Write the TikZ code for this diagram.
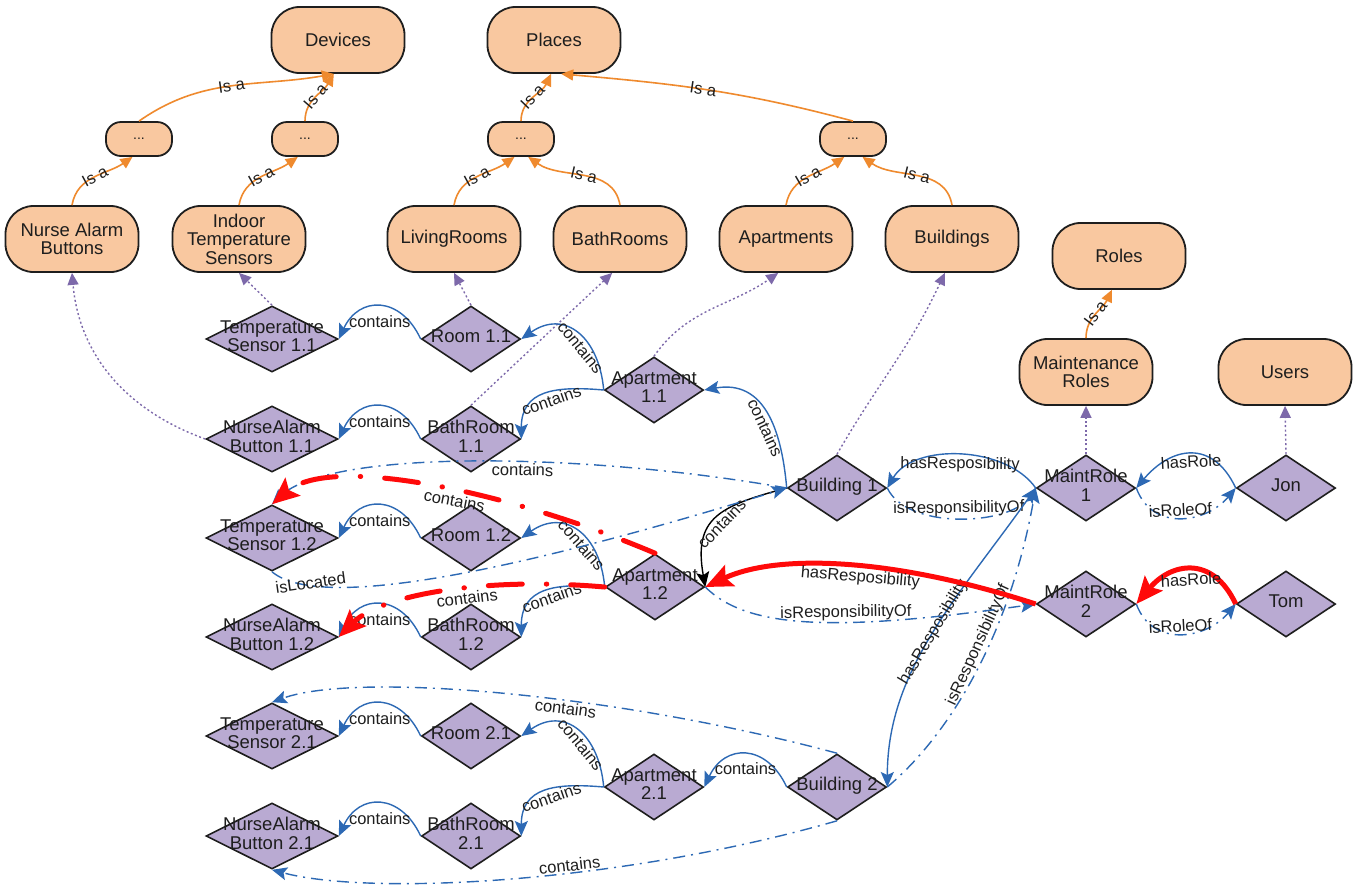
\documentclass[tikz,border=0pt]{standalone}
\usepackage{fontspec}
\setmainfont{Liberation Sans}
\usetikzlibrary{shapes.geometric,arrows.meta}

\definecolor{classfill}{HTML}{F9C8A0}
\definecolor{instfill}{HTML}{B9AAD2}
\definecolor{isaorange}{HTML}{EF8A2E}
\definecolor{typepurple}{HTML}{7D69AA}
\definecolor{relblue}{HTML}{2D69B4}
\definecolor{hlred}{HTML}{FF0A0A}
\definecolor{inkdark}{HTML}{1E1E1E}

\newcommand{\nodefont}{\fontsize{18.5}{18.5}\selectfont}
\newcommand{\edgefont}{\fontsize{16.5}{16.5}\selectfont}
% text of an individual: centred on the diamond, free to overflow its border
\newcommand{\dlabel}[1]{\makebox[0pt]{\begin{tabular}{@{}c@{}}#1\end{tabular}}}

\begin{document}
\begin{tikzpicture}[x=1pt,y=1pt,
  class/.style={rectangle, rounded corners=28pt, draw=inkdark, line width=1.8pt,
    fill=classfill, minimum width=133pt, minimum height=66pt, align=center,
    font=\nodefont, text=inkdark, inner sep=0pt},
  gapclass/.style={rectangle, rounded corners=15pt, draw=inkdark, line width=1.8pt,
    fill=classfill, minimum width=66pt, minimum height=34pt,
    font=\fontsize{14}{14}\selectfont, text=inkdark, inner sep=0pt},
  inst/.style={diamond, draw=inkdark, line width=1.6pt, fill=instfill,
    minimum width=99pt, minimum height=66pt, inner sep=0pt,
    font=\nodefont, text=inkdark},
  wideinst/.style={inst, minimum width=132pt},
  isa/.style={draw=isaorange, line width=1.6pt, -{Triangle[length=12pt,width=11pt]}},
  typeof/.style={draw=typepurple, line width=1.4pt, dash pattern=on 2pt off 2.5pt,
    -{Triangle[length=12pt,width=11pt]}},
  rel/.style={draw=relblue, line width=1.4pt, -{Stealth[length=15pt,width=13pt,inset=3pt]}},
  inv/.style={rel, dash pattern=on 12pt off 6pt on 2pt off 6pt},
  hl/.style={draw=hlred, line width=5pt, -{Stealth[length=27pt,width=23pt,inset=5pt]}},
  hldash/.style={hl, line cap=round, dash pattern=on 34pt off 24pt on 0.5pt off 24pt},
  lbl/.style={font=\edgefont, text=inkdark, inner sep=1pt, sloped},
  isalbl/.style={font=\edgefont, text=inkdark, inner sep=0pt, sloped},
  lblflat/.style={font=\edgefont, text=inkdark, inner sep=0pt}
]
\useasboundingbox (0,0) rectangle (1362,-884);
\fill[white] (0,0) rectangle (1362,-884);

% ---------- classes ----------
\node[class] (Devices) at (338,-40) {Devices};
\node[class] (Places)  at (554,-40) {Places};
\node[gapclass] (dA) at (139,-139) {...};
\node[gapclass] (dB) at (305,-139) {...};
\node[gapclass] (dC) at (521,-139) {...};
\node[gapclass] (dD) at (853,-139) {...};
\node[class] (NAB) at (72,-239)  {Nurse Alarm\\Buttons};
\node[class] (ITS) at (239,-239) {Indoor\\Temperature\\Sensors};
\node[class] (LR)  at (454,-239) {LivingRooms};
\node[class] (BRs) at (620,-239) {BathRooms};
\node[class] (APs) at (786,-239) {Apartments};
\node[class] (BUs) at (952,-239) {Buildings};
\node[class] (Roles)  at (1119,-256) {Roles};
\node[class] (MRoles) at (1086,-372) {Maintenance\\Roles};
\node[class] (Users)  at (1285,-372) {Users};

% ---------- individuals ----------
\node[wideinst] (TS11) at (272,-339) {\dlabel{Temperature\\Sensor 1.1}};
\node[inst] (R11)  at (471,-339) {\dlabel{Room 1.1}};
\node[inst] (A11)  at (654,-390) {\dlabel{Apartment\\1.1}};
\node[wideinst] (NA11) at (272,-439) {\dlabel{NurseAlarm\\Button 1.1}};
\node[inst] (BR11) at (471,-439) {\dlabel{BathRoom\\1.1}};
\node[inst] (B1)   at (837,-488) {\dlabel{Building 1}};
\node[inst] (MR1)  at (1086,-488) {\dlabel{MaintRole\\1}};
\node[inst] (Jon)  at (1286,-488) {\dlabel{Jon}};
\node[wideinst] (TS12) at (272,-538) {\dlabel{Temperature\\Sensor 1.2}};
\node[inst] (R12)  at (471,-538) {\dlabel{Room 1.2}};
\node[inst] (A12)  at (655,-587) {\dlabel{Apartment\\1.2}};
\node[wideinst] (NA12) at (272,-637) {\dlabel{NurseAlarm\\Button 1.2}};
\node[inst] (BR12) at (471,-637) {\dlabel{BathRoom\\1.2}};
\node[inst] (MR2)  at (1086,-604) {\dlabel{MaintRole\\2}};
\node[inst] (Tom)  at (1286,-604) {\dlabel{Tom}};
\node[wideinst] (TS21) at (272,-736) {\dlabel{Temperature\\Sensor 2.1}};
\node[inst] (R21)  at (471,-736) {\dlabel{Room 2.1}};
\node[inst] (A21)  at (654,-787) {\dlabel{Apartment\\2.1}};
\node[inst] (B2)   at (837,-787) {\dlabel{Building 2}};
\node[wideinst] (NA21) at (272,-836) {\dlabel{NurseAlarm\\Button 2.1}};
\node[inst] (BR21) at (471,-836) {\dlabel{BathRoom\\2.1}};

% ---------- class hierarchy ----------
\draw[isa] (NAB.north) to[out=80,in=-145] node[isalbl,pos=0.5]{Is a} (dA.-110);
\draw[isa] (ITS.north) to[out=80,in=-145] node[isalbl,pos=0.5]{Is a} (dB.-112);
\draw[isa] (dA.north) to[out=35,in=190] node[isalbl,pos=0.5]{Is a} (Devices.-97);
\draw[isa] (dB.north) to[out=90,in=-120] node[isalbl,pos=0.5]{Is a} (Devices.-97);
\draw[isa] (LR.north) to[out=80,in=-145] node[isalbl,pos=0.5]{Is a} (dC.-110);
\draw[isa] (BRs.north) to[out=100,in=-35] node[isalbl,pos=0.5]{Is a} (dC.-68);
\draw[isa] (dC.north) to[out=90,in=-115] node[isalbl,pos=0.5]{Is a} (Places.-95);
\draw[isa] (dD.north) to[out=165,in=-5] node[isalbl,pos=0.52]{Is a} (Places.-78);
\draw[isa] (APs.north) to[out=80,in=-145] node[isalbl,pos=0.5]{Is a} (dD.-116);
\draw[isa] (BUs.north) to[out=100,in=-35] node[isalbl,pos=0.5]{Is a} (dD.-62);
\draw[isa] (MRoles.north) to[out=90,in=-115] node[isalbl,pos=0.5]{Is a} (Roles.-102);

% ---------- instance-of links ----------
\draw[typeof] (TS11.north) -- (ITS.south);
\draw[typeof] (R11.north) -- (LR.south);
\draw[typeof] (NA11.west) to[out=160,in=-85] (NAB.south);
\draw[typeof] (BR11.north) -- (BRs.-103);
\draw[typeof] (A11.north) to[out=55,in=-145] (APs.-103);
\draw[typeof] (B1.north) to[out=60,in=-115] (BUs.-102);
\draw[typeof] (MR1.north) -- (MRoles.south);
\draw[typeof] (Jon.north) -- (Users.south);

% ---------- containment, building 1 ----------
\draw[rel] (R11.west) to[out=115,in=65,looseness=1.5] node[lbl,below=7pt]{contains} (TS11.east);
\draw[rel] (BR11.west) to[out=115,in=65,looseness=1.5] node[lbl,below=7pt]{contains} (NA11.east);
\draw[rel] (A11.west) to[out=95,in=35,looseness=1.4] node[lbl,below,pos=0.38]{contains} (R11.east);
\draw[rel] (A11.west) to[out=175,in=90,looseness=1.3] node[lbl,below,pos=0.45]{contains} (BR11.east);
\draw[rel] (B1.west) to[out=95,in=10,looseness=1.2] node[lbl,below,pos=0.4]{contains} (A11.east);
\draw[rel,draw=black] (B1.west) to[out=195,in=100,looseness=1.4] node[lbl,below,pos=0.5]{contains} (A12.east);
\draw[rel] (R12.west) to[out=115,in=65,looseness=1.5] node[lbl,below=7pt]{contains} (TS12.east);
\draw[rel] (BR12.west) to[out=115,in=65,looseness=1.5] node[lbl,below=7pt]{contains} (NA12.east);
\draw[rel] (A12.west) to[out=95,in=35,looseness=1.4] node[lbl,below,pos=0.38]{contains} (R12.east);
\draw[rel] (A12.west) to[out=175,in=90,looseness=1.3] node[lbl,below,pos=0.45]{contains} (BR12.east);
\draw[inv] (B1.west) .. controls +(170:205) and +(44:80) .. node[lbl,below,pos=0.42]{contains} (TS12.north);
\draw[inv] (TS12.south) .. controls +(-40:75) and +(197:200) .. node[lblflat,pos=0.15,rotate=8,yshift=3pt]{isLocated} (B1.west);

% ---------- containment, building 2 ----------
\draw[rel] (B2.west) to[out=115,in=65,looseness=1.5] node[lbl,below=7pt]{contains} (A21.east);
\draw[rel] (R21.west) to[out=115,in=65,looseness=1.5] node[lbl,below=7pt]{contains} (TS21.east);
\draw[rel] (BR21.west) to[out=115,in=65,looseness=1.5] node[lbl,below=7pt]{contains} (NA21.east);
\draw[rel] (A21.west) to[out=95,in=35,looseness=1.4] node[lbl,below,pos=0.38]{contains} (R21.east);
\draw[rel] (A21.west) to[out=175,in=90,looseness=1.3] node[lbl,below,pos=0.45]{contains} (BR21.east);
\draw[inv] (B2.north) .. controls +(165:230) and +(20:90) .. node[lbl,below,pos=0.4]{contains} (TS21.north);
\draw[inv] (B2.south) .. controls +(196:230) and +(-15:100) .. node[lbl,above,pos=0.4]{contains} (NA21.south);

% ---------- responsibilities and roles ----------
\draw[rel] (MR1.west) to[out=125,in=60,looseness=0.9] node[lbl,below]{hasResposibility} (B1.east);
\draw[inv] (B1.east) to[out=-65,in=-125,looseness=0.8] node[lbl,above]{isResponsibilityOf} (MR1.west);
\draw[rel] (MR1.west) .. controls +(235:130) and +(90:120) .. node[lbl,inner sep=0pt,pos=0.5]{hasResposibility} (B2.east);
\draw[inv] (B2.east) .. controls +(40:80) and +(-100:150) .. node[lbl,above,pos=0.58]{isResponsibilityOf} (MR1.west);
\draw[inv] (A12.east) .. controls +(-45:60) and +(188:200) .. node[lbl,above,pos=0.6]{isResponsibilityOf} (MR2.west);
\draw[rel] (Jon.west) to[out=115,in=50,looseness=1.4] node[lbl,below]{hasRole} (MR1.east);
\draw[inv] (MR1.east) to[out=-70,in=-130,looseness=1.2] node[lbl,above]{isRoleOf} (Jon.west);
\draw[inv] (MR2.east) to[out=-70,in=-130,looseness=1.2] node[lbl,above]{isRoleOf} (Tom.west);

% ---------- highlighted chain ----------
\draw[hl] (MR2.west) .. controls +(162:150) and +(25:80) .. node[lbl,below,pos=0.45]{hasResposibility} (A12.east);
\draw[hl] (Tom.west) to[out=115,in=50,looseness=1.4] node[lbl,below]{hasRole} (MR2.east);
\draw[hldash] (A12.north) .. controls +(157:150) and +(40:80) .. node[lbl,below,pos=0.45]{contains} (TS12.north);
\draw[hldash] (A12.west) .. controls +(175:120) and +(45:60) .. node[lbl,below,pos=0.42]{contains} (NA12.east);
\end{tikzpicture}
\end{document}
